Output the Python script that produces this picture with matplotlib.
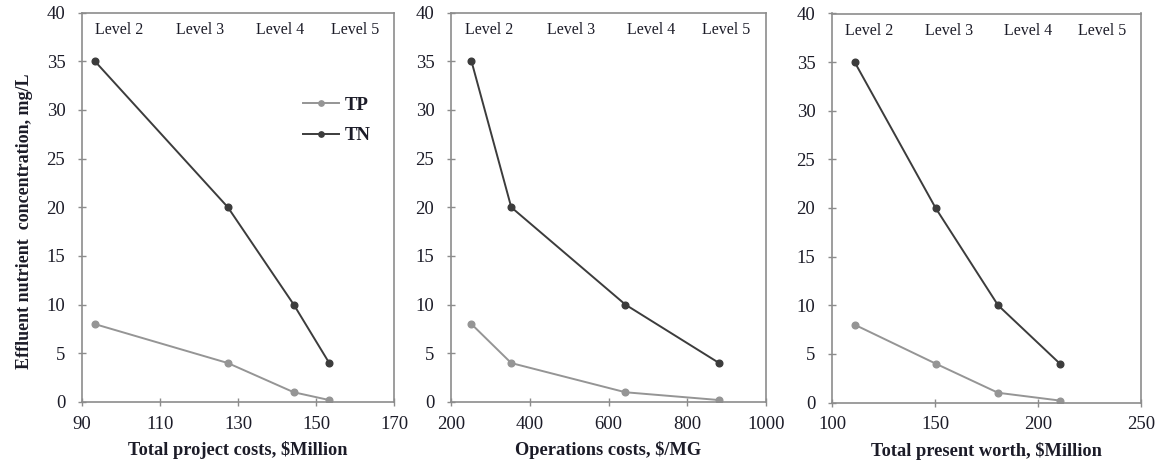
import matplotlib
matplotlib.use("Agg")
import matplotlib.pyplot as plt

plt.rcParams['font.family'] = ['Liberation Serif', 'DejaVu Serif']

# Effluent concentrations for treatment levels 2-5
levels = ["Level 2", "Level 3", "Level 4", "Level 5"]
tn_values = [35, 20, 10, 4]
tp_values = [8, 4, 1, 0.2]

# Cost measures for each treatment level
project_costs = [93.3, 127.4, 144.3, 153.4]      # $Million
operations_costs = [252, 353, 643, 881]          # $/MG
present_worth = [111, 150.3, 180.6, 210.6]       # $Million

panels = [
    (project_costs, (90, 170), [90, 110, 130, 150, 170], "Total project costs, $Million"),
    (operations_costs, (200, 1000), [200, 400, 600, 800, 1000], "Operations costs, $/MG"),
    (present_worth, (100, 250), [100, 150, 200, 250], "Total present worth, $Million"),
]

axes_boxes = [
    (82, 394, 12.5, 402),
    (451, 766, 12.5, 402),
    (832, 1141, 13.5, 402.5),
]

W, H = 1162, 463
fig = plt.figure(figsize=(W / 100, H / 100), dpi=100)

tp_color = "#959595"
tn_color = "#3c3c3c"
spine_color = "#8c8c8c"
text_color = "#1c1c28"
level_pos = [0.12, 0.38, 0.635, 0.875]

for i, ((xv, xlim, xticks, xlabel), (l, r, t, b)) in enumerate(zip(panels, axes_boxes)):
    ax = fig.add_axes([l / W, 1 - b / H, (r - l) / W, (b - t) / H])
    ax.plot(xv, tp_values, color=tp_color, lw=1.4, marker="o", ms=4.8, label="TP")
    ax.plot(xv, tn_values, color=tn_color, lw=1.4, marker="o", ms=4.8, label="TN")
    ax.set_xlim(*xlim)
    ax.set_ylim(0, 40)
    ax.set_xticks(xticks)
    ax.set_yticks(range(0, 41, 5))
    for s in ax.spines.values():
        s.set_color(spine_color)
        s.set_linewidth(1.2)
    ax.tick_params(direction="inout", length=6, width=1, color=spine_color,
                   labelsize=13.5, labelcolor=text_color)
    ax.tick_params(axis="y", pad=9)
    ax.tick_params(axis="x", pad=7)
    ax.set_xlabel(xlabel, fontsize=13.2, fontweight="bold", color=text_color, labelpad=6)
    for lv, xp in zip(levels, level_pos):
        ax.text(xp, 0.955, lv, transform=ax.transAxes, ha="center", va="center",
                fontsize=11.5, color=text_color)
    if i == 0:
        ax.set_ylabel("Effluent nutrient  concentration, mg/L", fontsize=13,
                      fontweight="bold", color=text_color)
        ax.yaxis.set_label_coords(-0.158, 0.465, transform=ax.transAxes)
        leg = ax.legend(loc="upper left", bbox_to_anchor=(0.655, 0.827), frameon=False,
                        fontsize=13.5, handlelength=1.9, handletextpad=0.3,
                        labelspacing=0.7, markerscale=0.8)
        for txt in leg.get_texts():
            txt.set_fontweight("bold")
            txt.set_color(text_color)

fig.savefig("out.png", dpi=100)
